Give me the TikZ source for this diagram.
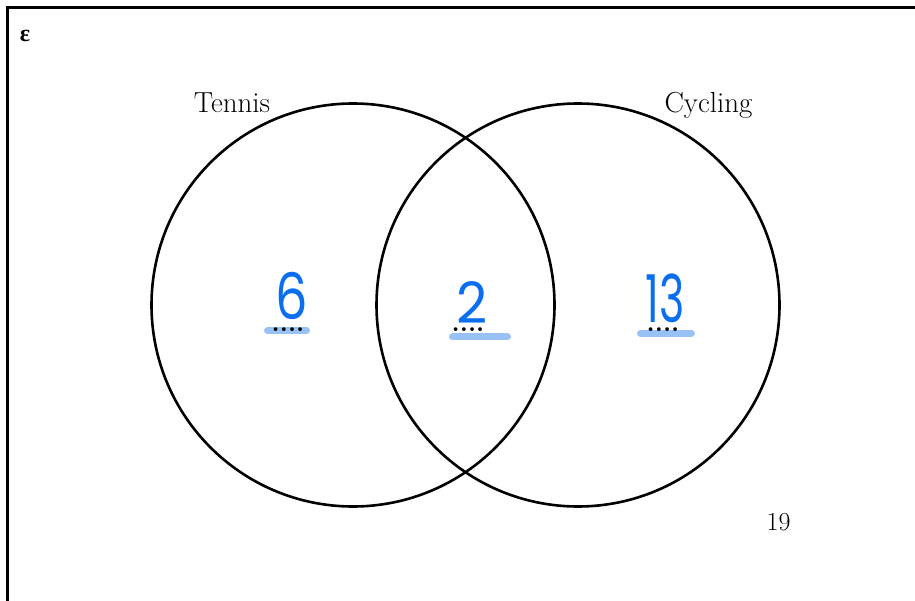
\documentclass[tikz,border=0pt]{standalone}
\usepackage{fontspec}
\usepackage{graphicx}
\newfontfamily\handfont{Poppins}
\newfontfamily\greekfont{Liberation Serif}
\definecolor{handblue}{RGB}{10,110,240}
\definecolor{barblue}{RGB}{152,193,245}
\begin{document}
\begin{tikzpicture}[x=1pt,y=-1pt,
  setline/.style={line width=2.6pt,draw=black},
  lbl/.style={font=\fontsize{29}{33}\selectfont,inner sep=0pt},
  hand/.style={text=handblue,inner sep=0pt},
  dotsline/.style={font=\fontsize{26}{30}\selectfont\bfseries,inner sep=0pt,anchor=base},
  bar/.style={line width=7pt,line cap=round,draw=barblue}]
\useasboundingbox (0,0) rectangle (915,601);
\begin{scope}
\clip (0,0) rectangle (915,601);
\draw[setline] (7.5,7.5) rectangle (930,620);
\end{scope}
\node[inner sep=0pt] (eps) at (25,36) {\greekfont\bfseries\fontsize{24}{28}\selectfont ε};
\draw[setline] (353,305) circle (201.5);
\draw[setline] (578,305) circle (201.5);
\node[lbl,anchor=base] (tennis) at (232,113) {Tennis};
\node[lbl,anchor=base] (cycling) at (708.5,113) {Cycling};
\node[inner sep=0pt,font=\fontsize{26}{30}\selectfont,anchor=base] (outside) at (778.5,530) {19};
% highlight bars
\coordinate (b1a) at (267.5,330.5); \coordinate (b1b) at (306.5,330.5);
\coordinate (b2a) at (452.5,337);   \coordinate (b2b) at (507.5,337);
\coordinate (b3a) at (640.5,333.5); \coordinate (b3b) at (691.5,333.5);
\draw[bar] (b1a) -- (b1b);
\draw[bar] (b2a) -- (b2b);
\draw[bar] (b3a) -- (b3b);
% dotted answer lines
\node[dotsline] (d1) at (288,331) {....};
\node[dotsline] (d2) at (468,331) {....};
\node[dotsline] (d3) at (663,331) {....};
% handwritten answers
\node[hand] (a1) at (291.5,295.5) {\scalebox{0.8}[1]{\handfont\fontsize{64}{70}\selectfont 6}};
\node[hand] (a2) at (472,303) {\scalebox{0.95}[1]{\handfont\fontsize{57}{62}\selectfont 2}};
\node[hand] (a3) at (665,298.5) {\scalebox{0.65}[1]{\handfont\fontsize{66}{72}\selectfont 13}};
\end{tikzpicture}
\end{document}
